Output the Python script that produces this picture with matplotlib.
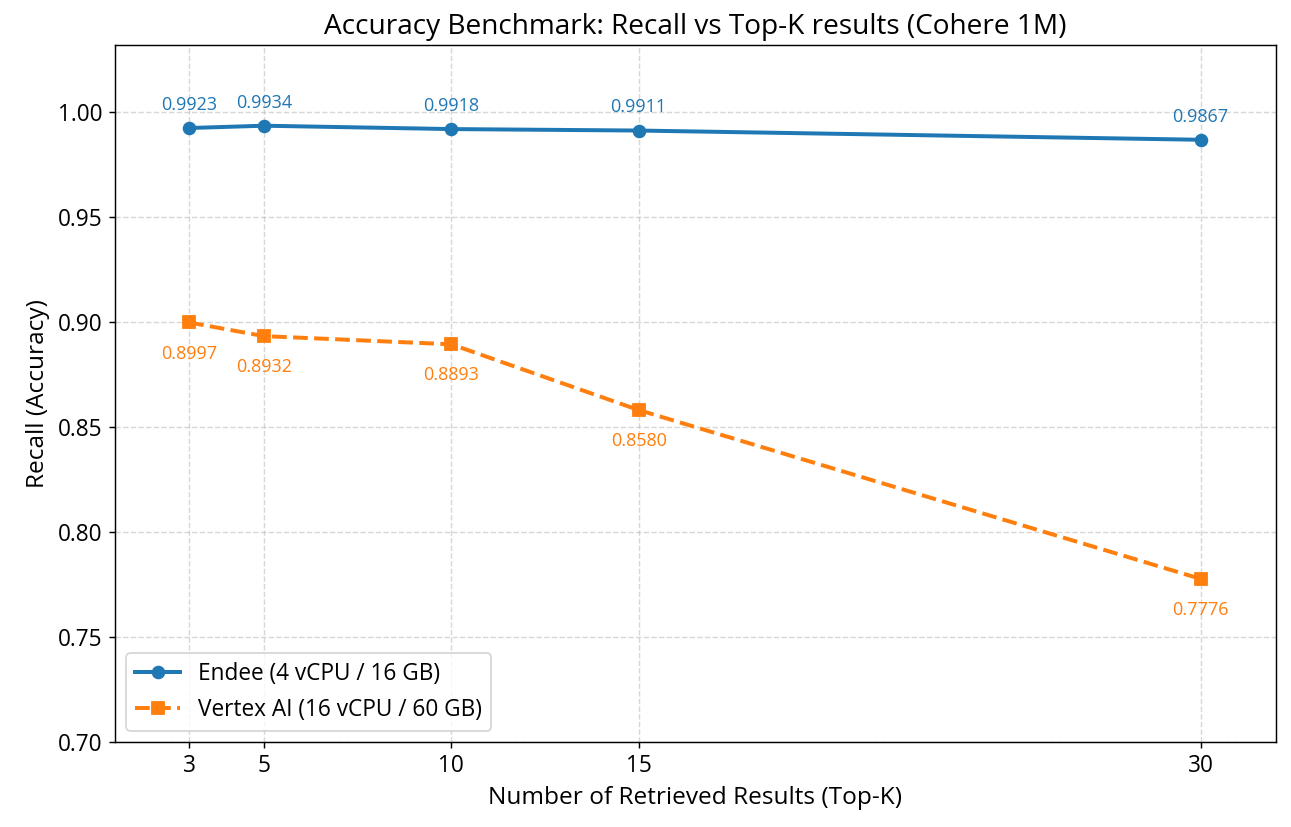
import matplotlib
matplotlib.use("Agg")
import matplotlib.pyplot as plt

plt.rcParams['font.family'] = ['Open Sans', 'DejaVu Sans']

top_k = [3, 5, 10, 15, 30]
endee = [0.9923, 0.9934, 0.9918, 0.9911, 0.9867]
vertex = [0.8997, 0.8932, 0.8893, 0.8580, 0.7776]
labels = ["Endee (4 vCPU / 16 GB)", "Vertex AI (16 vCPU / 60 GB)"]

fig = plt.figure(figsize=(1291/130, 827/130), dpi=130)
ax = fig.add_axes([0.089, 0.103, 0.899, 0.843])

ax.plot(top_k, endee, '-o', color='#1f77b4', lw=2.2, ms=6.5, label=labels[0])
ax.plot(top_k, vertex, '--s', color='#ff7f0e', lw=2.2, ms=6.5, label=labels[1])

for x, y in zip(top_k, endee):
    ax.annotate(f"{y:.4f}", (x, y), xytext=(0, 10), textcoords='offset points',
                ha='center', fontsize=10, color='#1f77b4')
for x, y in zip(top_k, vertex):
    ax.annotate(f"{y:.4f}", (x, y), xytext=(0, -20), textcoords='offset points',
                ha='center', fontsize=10, color='#ff7f0e')

ax.set_xlim(1.02, 32.0)
ax.set_ylim(0.70, 1.032)
ax.set_xticks(top_k)
ax.set_yticks([0.70, 0.75, 0.80, 0.85, 0.90, 0.95, 1.00])
ax.set_yticklabels([f"{v:.2f}" for v in [0.70, 0.75, 0.80, 0.85, 0.90, 0.95, 1.00]])
ax.tick_params(labelsize=12.5)
ax.grid(True, linestyle='--', alpha=0.5)
ax.set_xlabel("Number of Retrieved Results (Top-K)", fontsize=13.5)
ax.set_ylabel("Recall (Accuracy)", fontsize=13.5)
ax.set_title("Accuracy Benchmark: Recall vs Top-K results (Cohere 1M)", fontsize=15.5)
ax.legend(loc='lower left', fontsize=12.5)

fig.savefig("out.png", dpi=130)
